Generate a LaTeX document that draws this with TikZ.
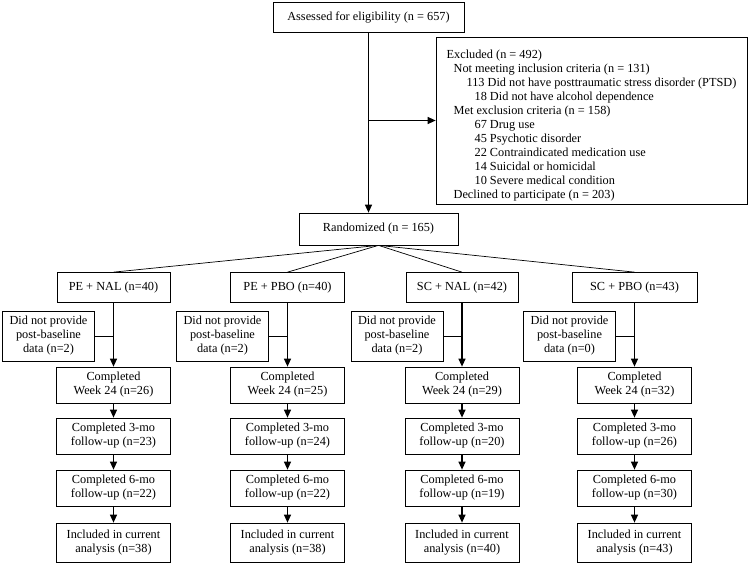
\documentclass[tikz,border=0pt]{standalone}
\usepackage{fontspec}
\setmainfont{Liberation Serif}
\usetikzlibrary{positioning,calc,arrows.meta}
\tikzstyle{line} = [draw,line width=0.7pt]
\tikzstyle{arrow} = [draw,line width=1.2pt,-{Triangle[length=8pt,width=7pt]}]
\tikzstyle{box} = [draw,line width=0.7pt,align=center,inner sep=2pt,font=\fontsize{12.3}{14}\selectfont]

\begin{document}
\begin{tikzpicture}[x=1pt,y=1pt]
          \useasboundingbox (0,0) rectangle (750,-565);
          \tikzstyle{armbox} = [box, minimum height=30pt]
          \tikzstyle{stepbox} = [box, minimum width=114pt, minimum height=36pt]
          \tikzstyle{lostbox} = [box, minimum width=92pt, minimum height=50pt]
          % screening
          \node[box, minimum width=191pt, minimum height=30pt] (assess) at (368.5,-17) {Assessed for eligibility (n = 657)};
          \node[box, align=left, minimum width=311pt, minimum height=167pt] (excl) at (591.5,-120.5) {\rule{0pt}{19pt}Excluded (n = 492)\\
            \hspace*{7pt}Not meeting inclusion criteria (n = 131)\\
            \hspace*{20pt}113 Did not have posttraumatic stress disorder (PTSD)\\
            \hspace*{28pt}18 Did not have alcohol dependence\\
            \hspace*{7pt}Met exclusion criteria (n = 158)\\
            \hspace*{28pt}67 Drug use\\
            \hspace*{28pt}45 Psychotic disorder\\
            \hspace*{28pt}22 Contraindicated medication use\\
            \hspace*{28pt}14 Suicidal or homicidal\\
            \hspace*{28pt}10 Severe medical condition\\
            \hspace*{7pt}Declined to participate (n = 203)};
          \node[box, minimum width=159pt, minimum height=32pt] (rand) at (378.5,-229) {Randomized (n = 165)};
          % arms
          \node[armbox, minimum width=113pt] (peNal) at (113.5,-287.5) {PE + NAL (n=40)};
          \node[armbox, minimum width=114pt] (pePbo) at (287.5,-287.5) {PE + PBO (n=40)};
          \node[armbox, minimum width=112pt] (scNal) at (462,-287.5) {SC + NAL (n=42)};
          \node[armbox, minimum width=125pt] (scPbo) at (634.5,-287.5) {SC + PBO (n=43)};
          % no post-baseline data
          \node[lostbox, node distance=65pt, yshift=-48.5pt] (peNalLost) [left of=peNal] {Did not provide\\post-baseline\\data (n=2)};
          \node[lostbox, node distance=65pt, yshift=-48.5pt] (pePboLost) [left of=pePbo] {Did not provide\\post-baseline\\data (n=2)};
          \node[lostbox, node distance=65pt, yshift=-48.5pt] (scNalLost) [left of=scNal] {Did not provide\\post-baseline\\data (n=2)};
          \node[lostbox, node distance=65pt, yshift=-48.5pt] (scPboLost) [left of=scPbo] {Did not provide\\post-baseline\\data (n=0)};
          % PE + NAL
          \node[stepbox, node distance=97.5pt] (peNalWk) [below of=peNal] {Completed\\Week 24 (n=26)};
          \node[stepbox, node distance=51pt] (peNalThree) [below of=peNalWk] {Completed 3-mo\\follow-up (n=23)};
          \node[stepbox, node distance=52pt] (peNalSix) [below of=peNalThree] {Completed 6-mo\\follow-up (n=22)};
          \node[stepbox, node distance=54.5pt, minimum height=39pt] (peNalIncl) [below of=peNalSix] {Included in current\\analysis (n=38)};
          % PE + PBO
          \node[stepbox, node distance=97.5pt] (pePboWk) [below of=pePbo] {Completed\\Week 24 (n=25)};
          \node[stepbox, node distance=51pt] (pePboThree) [below of=pePboWk] {Completed 3-mo\\follow-up (n=24)};
          \node[stepbox, node distance=52pt] (pePboSix) [below of=pePboThree] {Completed 6-mo\\follow-up (n=22)};
          \node[stepbox, node distance=54.5pt, minimum height=39pt] (pePboIncl) [below of=pePboSix] {Included in current\\analysis (n=38)};
          % SC + NAL
          \node[stepbox, node distance=97.5pt] (scNalWk) [below of=scNal] {Completed\\Week 24 (n=29)};
          \node[stepbox, node distance=51pt] (scNalThree) [below of=scNalWk] {Completed 3-mo\\follow-up (n=20)};
          \node[stepbox, node distance=52pt] (scNalSix) [below of=scNalThree] {Completed 6-mo\\follow-up (n=19)};
          \node[stepbox, node distance=54.5pt, minimum height=39pt] (scNalIncl) [below of=scNalSix] {Included in current\\analysis (n=40)};
          % SC + PBO
          \node[stepbox, node distance=97.5pt] (scPboWk) [below of=scPbo] {Completed\\Week 24 (n=32)};
          \node[stepbox, node distance=51pt] (scPboThree) [below of=scPboWk] {Completed 3-mo\\follow-up (n=26)};
          \node[stepbox, node distance=52pt] (scPboSix) [below of=scPboThree] {Completed 6-mo\\follow-up (n=30)};
          \node[stepbox, node distance=54.5pt, minimum height=39pt] (scPboIncl) [below of=scPboSix] {Included in current\\analysis (n=43)};
          % connectors
          \path [arrow] (assess.south) -- (assess.south |- rand.north);
          \path [arrow] (assess.south |- excl.west) -- (excl.west);
          \path [line] (rand.south) -- (peNal.north);
          \path [line] (rand.south) -- (pePbo.north);
          \path [line] (rand.south) -- (scNal.north);
          \path [line] (rand.south) -- (scPbo.north);
          \path [arrow] (peNal.south) -- (peNalWk.north);
          \path [arrow] (pePbo.south) -- (pePboWk.north);
          \path [arrow] (scNal.south) -- (scNalWk.north);
          \path [arrow] (scPbo.south) -- (scPboWk.north);
          \path [line] (peNalLost.east) -- (peNalLost.east -| peNal.south);
          \path [line] (pePboLost.east) -- (pePboLost.east -| pePbo.south);
          \path [line] (scNalLost.east) -- (scNalLost.east -| scNal.south);
          \path [line] (scPboLost.east) -- (scPboLost.east -| scPbo.south);
          \path [arrow] (peNalWk) -- (peNalThree);
          \path [arrow] (peNalThree) -- (peNalSix);
          \path [arrow] (peNalSix) -- (peNalIncl);
          \path [arrow] (pePboWk) -- (pePboThree);
          \path [arrow] (pePboThree) -- (pePboSix);
          \path [arrow] (pePboSix) -- (pePboIncl);
          \path [arrow] (scNalWk) -- (scNalThree);
          \path [arrow] (scNalThree) -- (scNalSix);
          \path [arrow] (scNalSix) -- (scNalIncl);
          \path [arrow] (scPboWk) -- (scPboThree);
          \path [arrow] (scPboThree) -- (scPboSix);
          \path [arrow] (scPboSix) -- (scPboIncl);
        \end{tikzpicture}
\end{document}
